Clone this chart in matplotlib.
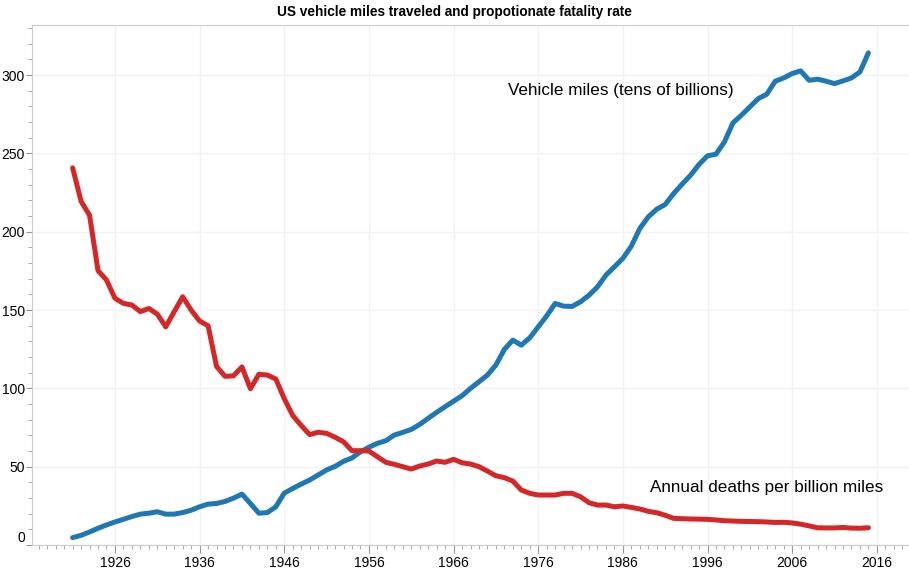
import matplotlib.pyplot as plt
import numpy as np
from matplotlib.ticker import MultipleLocator, FixedLocator

plt.rcParams['font.family'] = ['Liberation Sans', 'DejaVu Sans']

years = np.arange(1921, 2016)

# vehicle miles traveled, tens of billions
miles = [4.7, 6.2, 8.3, 10.7, 12.8, 14.7, 16.4, 18.2, 19.7, 20.3,
         21.2, 19.7, 19.7, 20.7, 22.2, 24.4, 26.1, 26.5, 27.8, 29.9,
         32.5, 26.5, 20.3, 20.7, 24.4, 33.1, 36.1, 38.9, 41.5, 44.7,
         47.9, 50.2, 53.4, 55.6, 59.5, 62.4, 64.9, 66.6, 70.2, 71.9,
         73.8, 77.0, 80.9, 84.7, 88.3, 91.8, 95.3, 100.0, 104.2, 108.5,
         114.9, 124.9, 130.8, 127.6, 132.3, 139.3, 146.3, 154.2, 152.5, 152.3,
         155.3, 159.5, 164.8, 172.3, 177.6, 183.0, 190.8, 202.1, 209.5, 214.4,
         217.4, 224.4, 230.4, 236.1, 243.0, 248.5, 249.5, 257.4, 269.5, 274.4,
         279.7, 285.0, 287.8, 296.1, 298.2, 301.0, 302.7, 296.7, 297.4, 296.1,
         294.6, 296.3, 298.2, 302.0, 314.2]

# annual deaths per billion miles
deaths = [240.8, 219.4, 210.5, 175.2, 169.2, 157.5, 154.3, 153.2, 149.0, 151.0,
          147.4, 139.3, 149.0, 158.5, 150.0, 143.0, 140.0, 114.0, 107.7, 108.0,
          113.7, 99.8, 109.0, 108.5, 106.0, 93.4, 82.7, 76.3, 70.5, 72.0,
          71.3, 68.8, 65.9, 60.2, 60.2, 60.0, 56.4, 52.8, 51.5, 50.0,
          48.5, 50.4, 51.7, 53.6, 52.8, 54.7, 52.5, 51.7, 50.0, 47.2,
          44.2, 43.0, 40.8, 35.1, 33.0, 31.9, 31.9, 31.9, 33.0, 33.0,
          30.8, 27.0, 25.5, 25.5, 24.4, 24.9, 24.0, 23.0, 21.5, 20.6,
          19.0, 17.0, 16.8, 16.6, 16.5, 16.4, 16.0, 15.5, 15.3, 15.1,
          15.0, 14.9, 14.7, 14.4, 14.5, 14.1, 13.3, 12.2, 11.0, 10.9,
          10.9, 11.2, 10.8, 10.7, 11.0]

fig = plt.figure(figsize=(9.09, 5.69), dpi=100)
ax = fig.add_axes([32 / 909, 1 - 545 / 569, 1 - 32 / 909, 520 / 569])

ax.plot(years, miles, color="#1f77b4", lw=3.6, solid_capstyle="round", solid_joinstyle="round")
ax.plot(years, deaths, color="#d62728", lw=3.6, solid_capstyle="round", solid_joinstyle="round")

ax.set_xlim(1916.2, 2019.8)
ax.set_ylim(0, 332)

ax.xaxis.set_major_locator(FixedLocator(np.arange(1926, 2017, 10)))
ax.xaxis.set_minor_locator(MultipleLocator(1))
ax.yaxis.set_major_locator(FixedLocator(np.arange(0, 301, 50)))
ax.yaxis.set_minor_locator(MultipleLocator(10))

ax.grid(True, which="major", color="#f3f3f3", lw=1)
ax.set_axisbelow(True)

for side in ["left", "bottom", "top"]:
    ax.spines[side].set_color("#cccccc")
ax.spines["right"].set_visible(False)

ax.tick_params(axis="both", which="major", colors="#999999", labelcolor="black", labelsize=10)
ax.tick_params(axis="x", which="major", length=6, pad=2)
ax.tick_params(axis="x", which="minor", length=3, colors="#999999")
ax.tick_params(axis="y", which="major", length=4, pad=1)
ax.tick_params(axis="y", which="minor", length=3, colors="#999999")

fig.canvas.draw()
ax.yaxis.get_major_ticks()[0].label1.set_va("bottom")

ax.text(1972.4, 290.4, "Vehicle miles (tens of billions)", fontsize=12.3, va="center", ha="left")
ax.text(1989.2, 37, "Annual deaths per billion miles", fontsize=12.3, va="center", ha="left")

fig.text(0.5, 1 - 12 / 569, "US vehicle miles traveled and propotionate fatality rate",
         ha="center", va="center", fontsize=9.8, fontweight="bold")

fig.savefig("out.png", dpi=100)
